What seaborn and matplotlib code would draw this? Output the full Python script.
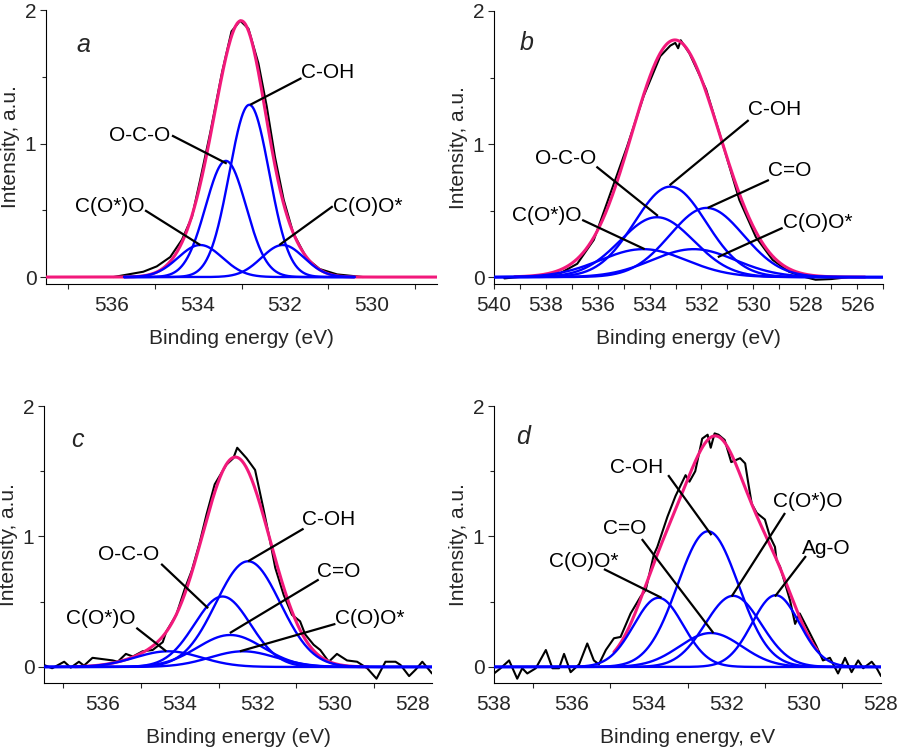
import numpy as np
import pandas as pd
import matplotlib
matplotlib.use("Agg")
import matplotlib.pyplot as plt
import seaborn as sns
from matplotlib.ticker import MultipleLocator, FixedLocator

sns.set_style("ticks")
plt.rcParams["font.family"] = ["Liberation Sans", "DejaVu Sans"]
plt.rcParams["font.size"] = 15

# ---------------- data ----------------
# Panel a
a_exp_x = [535.95, 535.26, 534.95, 534.64, 534.37, 534.14, 533.95, 533.72, 533.45, 533.23,
           533.03, 532.84, 532.61, 532.42, 532.23, 532.03, 531.81, 531.5, 531.2, 530.8, 530.2]
a_exp_y = [0.0, 0.04, 0.08, 0.15, 0.28, 0.45, 0.73, 1.08, 1.53, 1.84,
           1.92, 1.86, 1.60, 1.28, 0.90, 0.58, 0.33, 0.14, 0.06, 0.02, 0.0]
a_names = ["C(O*)O", "O-C-O", "C-OH", "C(O)O*"]
a_center = [533.95, 533.36, 532.82, 532.05]
a_height = [0.24, 0.87, 1.29, 0.24]
a_fwhm = [1.2, 1.1, 1.08, 1.15]

# Panel b
b_exp_x = [539.6, 539.1, 538.1, 537.44, 536.79, 536.15, 535.51, 534.87, 534.23, 533.59,
           533.2, 533.01, 532.9, 532.8, 532.46, 531.82, 531.18, 530.54, 529.9, 529.26,
           528.62, 528.0, 527.6, 527.0, 526.3, 525.06]
b_exp_y = [-0.01, 0.0, 0.01, 0.03, 0.10, 0.28, 0.63, 0.98, 1.36, 1.66,
           1.74, 1.76, 1.72, 1.78, 1.68, 1.41, 1.0, 0.58, 0.30, 0.13,
           0.04, 0.0, -0.02, -0.015, 0.0, 0.0]
b_names = ["C(O*)O", "O-C-O", "C-OH", "C(O)O*", "C=O"]
b_center = [534.25, 533.72, 533.2, 532.3, 531.8]
b_height = [0.21, 0.45, 0.68, 0.21, 0.52]
b_fwhm = [3.9, 3.35, 3.25, 3.8, 3.35]

# Panel c
c_exp_x = [537.5, 537.29, 536.98, 536.81, 536.6, 536.47, 536.25, 535.99, 535.73, 535.6,
           535.39, 535.21, 534.96, 534.7, 534.44, 534.35, 534.09, 533.87, 533.69, 533.49,
           533.31, 533.1, 532.8, 532.62, 532.52, 532.28, 532.06, 531.85, 531.67, 531.54,
           531.32, 531.11, 530.9, 530.77, 530.55, 530.38, 530.16, 529.95, 529.69, 529.43,
           529.17, 528.93, 528.7, 528.44, 528.31, 528.09, 527.92, 527.75, 527.61, 527.5]
c_exp_y = [0.015, -0.01, 0.04, -0.005, 0.04, 0.01, 0.07, 0.06, 0.05, 0.04,
           0.10, 0.08, 0.12, 0.13, 0.19, 0.27, 0.40, 0.60, 0.74, 0.95,
           1.17, 1.40, 1.55, 1.60, 1.68, 1.60, 1.51, 1.22, 0.96, 0.76,
           0.55, 0.40, 0.35, 0.25, 0.17, 0.13, 0.04, 0.10, 0.05, 0.04,
           -0.01, -0.09, 0.04, 0.04, 0.015, -0.07, -0.02, 0.04, -0.01, -0.05]
c_names = ["C(O*)O", "O-C-O", "C=O", "C(O)O*", "C-OH"]
c_center = [534.3, 532.9, 532.7, 532.37, 532.24]
c_height = [0.12, 0.54, 0.245, 0.12, 0.81]
c_fwhm = [2.0, 1.7, 2.0, 2.0, 1.95]

# Panel d
d_exp_x = [538.0, 537.83, 537.61, 537.4, 537.27, 537.14, 536.92, 536.66, 536.49, 536.32,
           536.19, 536.02, 535.8, 535.59, 535.42, 535.29, 535.11, 534.9, 534.73, 534.47,
           534.21, 534.08, 533.87, 533.78, 533.52, 533.31, 533.05, 532.95, 532.8, 532.62,
           532.48, 532.4, 532.3, 532.2, 532.04, 531.87, 531.64, 531.51, 531.43, 531.34,
           531.21, 531.0, 530.87, 530.74, 530.7, 530.61, 530.35, 530.22, 530.1, 529.84,
           529.67, 529.5, 529.32, 529.11, 528.93, 528.76, 528.59, 528.46, 528.24, 528.11, 528.0]
d_exp_y = [-0.05, -0.01, 0.05, -0.09, -0.01, -0.05, -0.01, 0.13, -0.01, -0.01,
           0.10, -0.04, 0.02, 0.18, 0.05, 0.02, 0.13, 0.22, 0.23, 0.41,
           0.54, 0.59, 0.86, 0.92, 1.15, 1.31, 1.47, 1.42, 1.50, 1.75,
           1.78, 1.68, 1.79, 1.78, 1.74, 1.57, 1.60, 1.56, 1.41, 1.25,
           1.18, 1.13, 1.00, 0.92, 0.82, 0.77, 0.51, 0.33, 0.41, 0.26,
           0.16, 0.05, 0.07, -0.05, 0.07, -0.04, 0.05, -0.01, 0.04, -0.01, -0.07]
d_names = ["C(O)O*", "C-OH", "C=O", "C(O*)O", "Ag-O"]
d_center = [533.75, 532.47, 532.4, 531.82, 530.72]
d_height = [0.53, 1.04, 0.26, 0.545, 0.55]
d_fwhm = [1.5, 1.85, 1.9, 1.7, 1.45]

# ---------------- layout / style ----------------
BLUE = "#0000FF"
PINK = "#F2197B"

panels = [
    dict(rect=[46/901, 1-284/750, 391/901, 274/750], xlim=(537.5, 528.5), ylim=(-0.052, 2.0),
         xlabel="Binding energy (eV)", letter="a", letter_pos=(536.64, 1.74),
         ex=a_exp_x, ey=a_exp_y, names=a_names, cen=a_center, hgt=a_height, fw=a_fwhm,
         env=(537.5, 528.4), comp=(535.7, 530.4), major_len=0,
         text={"C(O*)O": (535.24, 0.53, "right"), "O-C-O": (534.64, 1.06, "right"),
               "C-OH": (531.62, 1.53, "left"), "C(O)O*": (530.89, 0.53, "left")},
         lead={"C(O*)O": ((535.22, 0.50), (533.95, 0.24)), "O-C-O": ((534.6, 1.06), (533.34, 0.85)),
               "C-OH": ((531.62, 1.49), (532.8, 1.29)), "C(O)O*": ((530.9, 0.53), (532.13, 0.24))}),
    dict(rect=[494/901, 1-284/750, 389/901, 273/750], xlim=(540, 525), ylim=(-0.052, 2.0),
         xlabel="Binding energy (eV)", letter="b", letter_pos=(538.74, 1.76),
         ex=b_exp_x, ey=b_exp_y, names=b_names, cen=b_center, hgt=b_height, fw=b_fwhm,
         env=(539.2, 525.7), comp=(540, 525), major_len=3.6,
         text={"C(O*)O": (536.63, 0.46, "right"), "O-C-O": (536.05, 0.89, "right"),
               "C-OH": (530.22, 1.26, "left"), "C=O": (529.45, 0.80, "left"),
               "C(O)O*": (528.87, 0.41, "left")},
         lead={"C(O*)O": ((536.6, 0.43), (534.19, 0.21)), "O-C-O": ((536.05, 0.83), (533.68, 0.46)),
               "C-OH": ((530.18, 1.18), (533.23, 0.69)), "C=O": ((529.4, 0.73), (531.76, 0.52)),
               "C(O)O*": ((528.87, 0.37), (531.37, 0.15))}),
    dict(rect=[44/901, 1-683/750, 388/901, 277/750], xlim=(537.5, 527.5), ylim=(-0.123, 2.0),
         xlabel="Binding energy (eV)", letter="c", letter_pos=(536.64, 1.74),
         ex=c_exp_x, ey=c_exp_y, names=c_names, cen=c_center, hgt=c_height, fw=c_fwhm,
         env=(536.7, 529.15), comp=(537.5, 527.5), major_len=0,
         text={"C(O*)O": (535.13, 0.37, "right"), "O-C-O": (534.52, 0.86, "right"),
               "C-OH": (530.85, 1.13, "left"), "C=O": (530.46, 0.73, "left"),
               "C(O)O*": (529.99, 0.37, "left")},
         lead={"C(O*)O": ((535.12, 0.30), (534.35, 0.12)), "O-C-O": ((534.48, 0.79), (533.27, 0.45)),
               "C-OH": ((530.81, 1.06), (532.24, 0.81)), "C=O": ((530.42, 0.67), (532.71, 0.26)),
               "C(O)O*": ((529.99, 0.33), (532.45, 0.12))}),
    dict(rect=[494/901, 1-683/750, 387/901, 277/750], xlim=(538, 528), ylim=(-0.123, 2.0),
         xlabel="Binding energy, eV", letter="d", letter_pos=(537.24, 1.76),
         ex=d_exp_x, ey=d_exp_y, names=d_names, cen=d_center, hgt=d_height, fw=d_fwhm,
         env=(534.9, 529.65), comp=(538, 528), major_len=0,
         text={"C(O)O*": (534.79, 0.81, "right"), "C-OH": (533.62, 1.53, "right"),
               "C=O": (534.06, 1.06, "right"), "C(O*)O": (530.8, 1.27, "left"),
               "Ag-O": (530.05, 0.91, "left")},
         lead={"C(O)O*": ((535.16, 0.75), (533.67, 0.53)), "C-OH": ((533.5, 1.47), (532.38, 1.01)),
               "C=O": ((534.18, 0.98), (532.33, 0.26)), "C(O*)O": ((530.48, 1.18), (531.86, 0.54)),
               "Ag-O": ((529.94, 0.85), (530.74, 0.54))}),
]


def gauss(x, c, h, w):
    return h * np.exp(-4 * np.log(2) * (x - c) ** 2 / w ** 2)


fig = plt.figure(figsize=(9.01, 7.5), dpi=100)

for p in panels:
    ax = fig.add_axes(p["rect"])
    # experimental spectrum
    exp_df = pd.DataFrame({"x": p["ex"], "y": p["ey"]})
    sns.lineplot(data=exp_df, x="x", y="y", ax=ax, color="black", linewidth=1.5,
                 estimator=None, sort=False, legend=False, zorder=2)
    # fitted envelope
    xe = np.linspace(p["env"][0], p["env"][1], 500)
    env = np.zeros_like(xe)
    for c, h, w in zip(p["cen"], p["hgt"], p["fw"]):
        env += gauss(xe, c, h, w)
    sns.lineplot(x=xe, y=env, ax=ax, color=PINK, linewidth=2.2, estimator=None,
                 sort=False, legend=False, zorder=3)
    # components
    xc = np.linspace(p["comp"][0], p["comp"][1], 500)
    for c, h, w in zip(p["cen"], p["hgt"], p["fw"]):
        sns.lineplot(x=xc, y=gauss(xc, c, h, w), ax=ax, color=BLUE, linewidth=1.7,
                     estimator=None, sort=False, legend=False, zorder=4)
    # labels with leader lines
    for name in p["names"]:
        tx, ty, ha = p["text"][name]
        ax.text(tx, ty, name, ha=ha, va="center", fontsize=15, color="black", zorder=6)
        (x0, y0), (x1, y1) = p["lead"][name]
        ax.plot([x0, x1], [y0, y1], color="black", linewidth=1.6, zorder=5,
                solid_capstyle="butt")
    ax.text(p["letter_pos"][0], p["letter_pos"][1], p["letter"], style="italic",
            fontsize=18, ha="center", va="center")

    ax.set_xlim(*p["xlim"])
    ax.set_ylim(*p["ylim"])
    ax.xaxis.set_major_locator(MultipleLocator(2))
    ax.xaxis.set_minor_locator(MultipleLocator(1))
    ax.yaxis.set_major_locator(FixedLocator([0, 1, 2]))
    ax.yaxis.set_minor_locator(FixedLocator([0.5, 1.5]))
    ax.set_yticklabels(["0", "1", "2"])
    ax.xaxis.set_major_formatter(matplotlib.ticker.FormatStrFormatter("%d"))
    ax.tick_params(axis="x", which="major", direction="out", length=p["major_len"],
                   width=0.8, pad=8.6 - p["major_len"], labelsize=15)
    ax.tick_params(axis="x", which="minor", direction="out", length=3.3, width=0.8)
    ax.tick_params(axis="y", which="major", direction="out", length=4.5, width=0.8,
                   pad=2.4, labelsize=15)
    ax.tick_params(axis="y", which="minor", direction="out", length=3, width=0.8)
    ax.set_xlabel(p["xlabel"], fontsize=15, labelpad=10)
    ax.set_ylabel("Intensity, a.u.", fontsize=15, labelpad=3)
    sns.despine(ax=ax)
    for s in ("left", "bottom"):
        ax.spines[s].set_linewidth(0.8)
        ax.spines[s].set_color("black")
    ax.set_facecolor("white")

fig.savefig("out.png", dpi=100, facecolor="white")
